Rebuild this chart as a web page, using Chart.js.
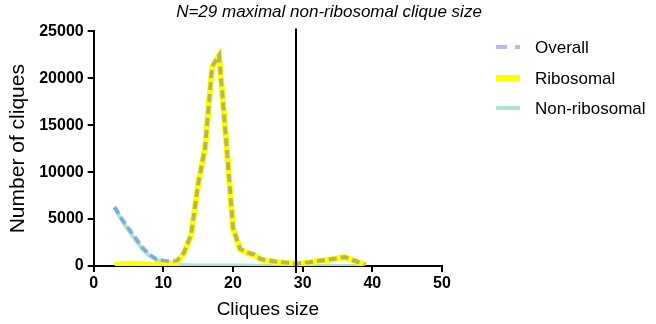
<!DOCTYPE html>
<html>
<head>
<meta charset="utf-8">
<script src="https://cdn.jsdelivr.net/npm/chart.js@4.4.1/dist/chart.umd.min.js"></script>
<style>
  html, body { margin: 0; padding: 0; background: #fff; }
  #wrap { width: 656px; height: 324px; }
</style>
</head>
<body>
<div id="wrap"><canvas id="cliqueChart"></canvas></div>
<script>
// Clique size distribution — overall vs ribosomal vs non-ribosomal

// ── Data ──────────────────────────────────────────────────────────────────────

const cliqueSizes = [3, 4, 5, 6, 7, 8, 9, 10, 11, 12, 13, 14, 15, 16, 17, 18, 19, 20, 21,
  22, 23, 24, 25, 26, 27, 28, 29, 30, 31, 32, 33, 34, 35, 36, 37, 38, 39];

const overall = [6300, 5100, 4050, 3050, 2000, 1250, 750, 600, 530, 600, 1480, 3370, 8760,
  12660, 21250, 22450, 13560, 4050, 1840, 1440, 1230, 730, 580, 470, 400, 320, 250, 300,
  400, 520, 610, 710, 810, 960, 690, 410, 120];

const ribosomal = [100, 200, 250, 250, 200, 150, 100, 100, 150, 400, 1400, 3300, 8700,
  12600, 21200, 22400, 13500, 4000, 1800, 1400, 1200, 700, 550, 450, 380, 300, 230, 280,
  380, 500, 600, 700, 800, 950, 680, 400, 120];

const nonRibosomal = [6200, 4900, 3800, 2800, 1800, 1100, 650, 500, 380, 200, 100, 70, 60,
  60, 50, 50, 60, 50, 40, 40, 30, 30, 30, 20, 20, 20, 20, 20, 20, 20, 10, 10, 10, 10, 10,
  10, 0];

const xTicks = [0, 10, 20, 30, 40, 50];
const yTicks = [0, 5000, 10000, 15000, 20000, 25000];
const maxNonRibosomalClique = 29;

const toPoints = (values) => values.map((y, i) => ({ x: cliqueSizes[i], y }));

// ── Plugins ──────────────────────────────────────────────────────────────────

// vertical marker at the maximal non-ribosomal clique size
const markerLine = {
  id: 'markerLine',
  afterDatasetsDraw(chart) {
    const { ctx, chartArea, scales } = chart;
    const x = Math.round(scales.x.getPixelForValue(maxNonRibosomalClique));
    ctx.save();
    ctx.strokeStyle = '#000';
    ctx.lineWidth = 2;
    ctx.beginPath();
    ctx.moveTo(x, chartArea.top - 3);
    ctx.lineTo(x, chartArea.bottom + 7);
    ctx.stroke();
    ctx.restore();
  },
};

// legend to the right of the plot, GraphPad style
const sideLegend = {
  id: 'sideLegend',
  afterDraw(chart) {
    const { ctx } = chart;
    const left = 496;
    const top = 47;
    const rowGap = 30.5;
    ctx.save();
    ctx.font = '17px Arial, "Liberation Sans", sans-serif';
    ctx.textBaseline = 'middle';
    chart.data.datasets.forEach((ds, i) => {
      const y = Math.round(top + i * rowGap);
      ctx.strokeStyle = ds.borderColor;
      ctx.lineWidth = ds.borderWidth;
      ctx.setLineDash(ds.borderDash ? [11, 8] : []);
      ctx.beginPath();
      ctx.moveTo(left, y);
      ctx.lineTo(left + 24, y);
      ctx.stroke();
      ctx.fillStyle = '#000';
      ctx.fillText(ds.label, left + 39, y + 1);
    });
    ctx.restore();
  },
};

// ── Chart ─────────────────────────────────────────────────────────────────────

Chart.defaults.font.family = 'Arial, "Liberation Sans", sans-serif';
Chart.defaults.color = '#000';

const axisGrid = {
  display: true,
  drawOnChartArea: false,
  drawTicks: true,
  tickLength: 6,
  color: '#000',
  lineWidth: 2,
};

new Chart(document.getElementById('cliqueChart'), {
  type: 'line',
  data: {
    datasets: [
      {
        label: 'Overall',
        data: toPoints(overall),
        borderColor: 'rgba(50,50,230,0.35)',
        borderWidth: 4,
        borderDash: [8, 4],
      },
      {
        label: 'Ribosomal',
        data: toPoints(ribosomal),
        borderColor: '#ffff00',
        borderWidth: 6,
      },
      {
        label: 'Non-ribosomal',
        data: toPoints(nonRibosomal),
        borderColor: '#abe6d2',
        borderWidth: 4,
      },
    ],
  },
  options: {
    responsive: true,
    maintainAspectRatio: false,
    animation: false,
    layout: { padding: { left: 2, right: 0, top: 0, bottom: 3 } },
    elements: {
      point: { radius: 0 },
      line: { tension: 0, fill: false },
    },
    plugins: {
      title: {
        display: true,
        text: 'N=29 maximal non-ribosomal clique size',
        font: { size: 17, style: 'italic', weight: 'normal' },
        color: '#000',
        padding: { top: 2, bottom: 9 },
      },
      legend: { display: false },
      tooltip: { enabled: false },
    },
    scales: {
      x: {
        type: 'linear',
        min: 0,
        max: 50,
        afterBuildTicks: (axis) => { axis.ticks = xTicks.map((v) => ({ value: v })); },
        // leave room on the right for the legend
        afterFit: (axis) => { axis.paddingRight = 214; },
        grid: axisGrid,
        border: { color: '#000', width: 2 },
        ticks: { font: { size: 16, weight: 'bold' }, padding: 2, maxRotation: 0, callback: (v) => String(v) },
        title: { display: true, text: 'Cliques size', font: { size: 19 }, padding: { top: 3, bottom: 0 } },
      },
      y: {
        min: 0,
        max: 25000,
        afterBuildTicks: (axis) => { axis.ticks = yTicks.map((v) => ({ value: v })); },
        grid: axisGrid,
        border: { color: '#000', width: 2 },
        ticks: { font: { size: 16, weight: 'bold' }, padding: 4, callback: (v) => String(v) },
        title: { display: true, text: 'Number of cliques', font: { size: 21 }, padding: { top: 4, bottom: 4 } },
      },
    },
  },
  plugins: [markerLine, sideLegend],
});
</script>
</body>
</html>
